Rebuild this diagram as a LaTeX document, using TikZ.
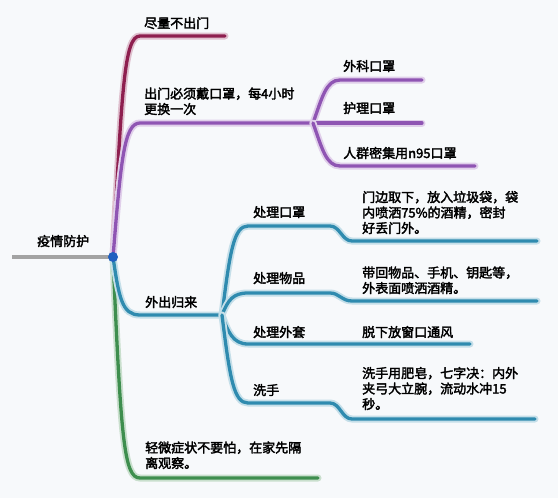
\documentclass[tikz,border=0pt]{standalone}
\usepackage{fontspec}
\setmainfont{Noto Sans CJK SC}[AutoFakeBold=2.5]
\usepackage{xcolor}
\definecolor{Crimson}{HTML}{8E1F4F}
\definecolor{Plum}{HTML}{8F55B3}
\definecolor{Sea}{HTML}{2F8BAF}
\definecolor{Leaf}{HTML}{3E8E4E}
\definecolor{GrayMid}{HTML}{A3A3A3}
\definecolor{DotBlue}{HTML}{2060C0}
\definecolor{Paper}{HTML}{F7F9FB}
\usepackage{tikz}
\tikzset{
  lbl/.style={
    anchor=base west, inner sep=0pt, align=left,
    font=\bfseries\fontsize{13}{15.5}\selectfont
  },
  br/.style={
    draw=#1, line width=3.3pt, line cap=round,
    preaction={draw=#1!28, line width=7pt, line cap=round}
  },
}

\begin{document}
\begin{tikzpicture}[x=1pt,y=-1pt]

\fill[Paper] (0,0) rectangle (558,498);
\useasboundingbox (0,0) rectangle (558,498);

% Root
\coordinate (root) at (113,257);
\coordinate (rootTail) at (12,257);
\node[lbl] (rootLbl) at (37,246) {疫情防护};
\draw[GrayMid, line width=3.5pt] (rootTail) -- (root);

% Main branch points
\coordinate (stayS) at (140,36);  \coordinate (stayE) at (225,36);
\coordinate (maskS) at (140,123); \coordinate (maskHub) at (313,123);
\coordinate (backS) at (140,315); \coordinate (backHub) at (222,315);
\coordinate (mildS) at (140,478); \coordinate (mildE) at (318,478);

% Main branches
\draw[br=Crimson] (root) .. controls (122,90) and (124,36) .. (stayS) -- (stayE);
\draw[br=Plum] (root) .. controls (121,160) and (124,123) .. (maskS) -- (maskHub);
\draw[br=Leaf] (root) .. controls (121,440) and (124,478) .. (mildS) -- (mildE);
\draw[br=Sea] (root) .. controls (119,298) and (122,315) .. (backS) -- (backHub);

% (base anchor of a multi-line label sits on its last line)
\node[lbl] (stay) at (144,28) {尽量不出门};
\node[lbl] (mask) at (144,114) {出门必须戴口罩，每4小时\\更换一次};
\node[lbl] (back) at (145,307) {外出归来};
\node[lbl] (mild) at (145,468) {轻微症状不要怕，在家先隔\\离观察。};

% Mask types
\coordinate (surgS) at (340,80);  \coordinate (surgE) at (422,80);
\coordinate (nurseE) at (422,123);
\coordinate (n95S) at (340,166);  \coordinate (n95E) at (475,166);
\draw[br=Plum] (maskHub) .. controls (322,98) and (326,80) .. (surgS) -- (surgE);
\draw[br=Plum] (maskHub) -- (nurseE);
\draw[br=Plum] (maskHub) .. controls (322,148) and (326,166) .. (n95S) -- (n95E);

\node[lbl] (surg) at (343,71) {外科口罩};
\node[lbl] (nurse) at (343,113) {护理口罩};
\node[lbl] (n95) at (343,158) {人群密集用n95口罩};

% Back home steps
\coordinate (masksS) at (248,226); \coordinate (masksM) at (330,226);
\coordinate (masksN) at (352,241); \coordinate (masksE) at (537,241);
\coordinate (itemsS) at (248,293); \coordinate (itemsM) at (330,293);
\coordinate (itemsN) at (352,301); \coordinate (itemsE) at (537,301);
\coordinate (coatS) at (248,344);  \coordinate (coatE) at (470,344);
\coordinate (washS) at (248,403);  \coordinate (washM) at (330,403);
\coordinate (washN) at (352,419);  \coordinate (washE) at (535,419);

\draw[br=Sea] (backHub) .. controls (230,250) and (234,226) .. (masksS) -- (masksM)
  .. controls (340,226) and (342,241) .. (masksN) -- (masksE);
\draw[br=Sea] (backHub) .. controls (228,300) and (233,293) .. (itemsS) -- (itemsM)
  .. controls (339,293) and (342,301) .. (itemsN) -- (itemsE);
\draw[br=Sea] (backHub) .. controls (228,332) and (233,344) .. (coatS) -- (coatE);
\draw[br=Sea] (backHub) .. controls (230,380) and (234,403) .. (washS) -- (washM)
  .. controls (340,403) and (342,419) .. (washN) -- (washE);

\node[lbl] (masks) at (253,217) {处理口罩};
\node[lbl] (items) at (253,283) {处理物品};
\node[lbl] (coat) at (253,337) {处理外套};
\node[lbl] (wash) at (253,395) {洗手};

\node[lbl] (masksTxt) at (362,233) {门边取下，放入垃圾袋，袋\\内喷洒75\%的酒精，密封\\好丢门外。};
\node[lbl] (itemsTxt) at (362,293) {带回物品、手机、钥匙等，\\外表面喷洒酒精。};
\node[lbl] (coatTxt) at (362,337) {脱下放窗口通风};
\node[lbl] (washTxt) at (362,409) {洗手用肥皂，七字决：内外\\夹弓大立腕，流动水冲15\\秒。};

% Hub dot
\fill[DotBlue] (root) circle (5);

\end{tikzpicture}
\end{document}
